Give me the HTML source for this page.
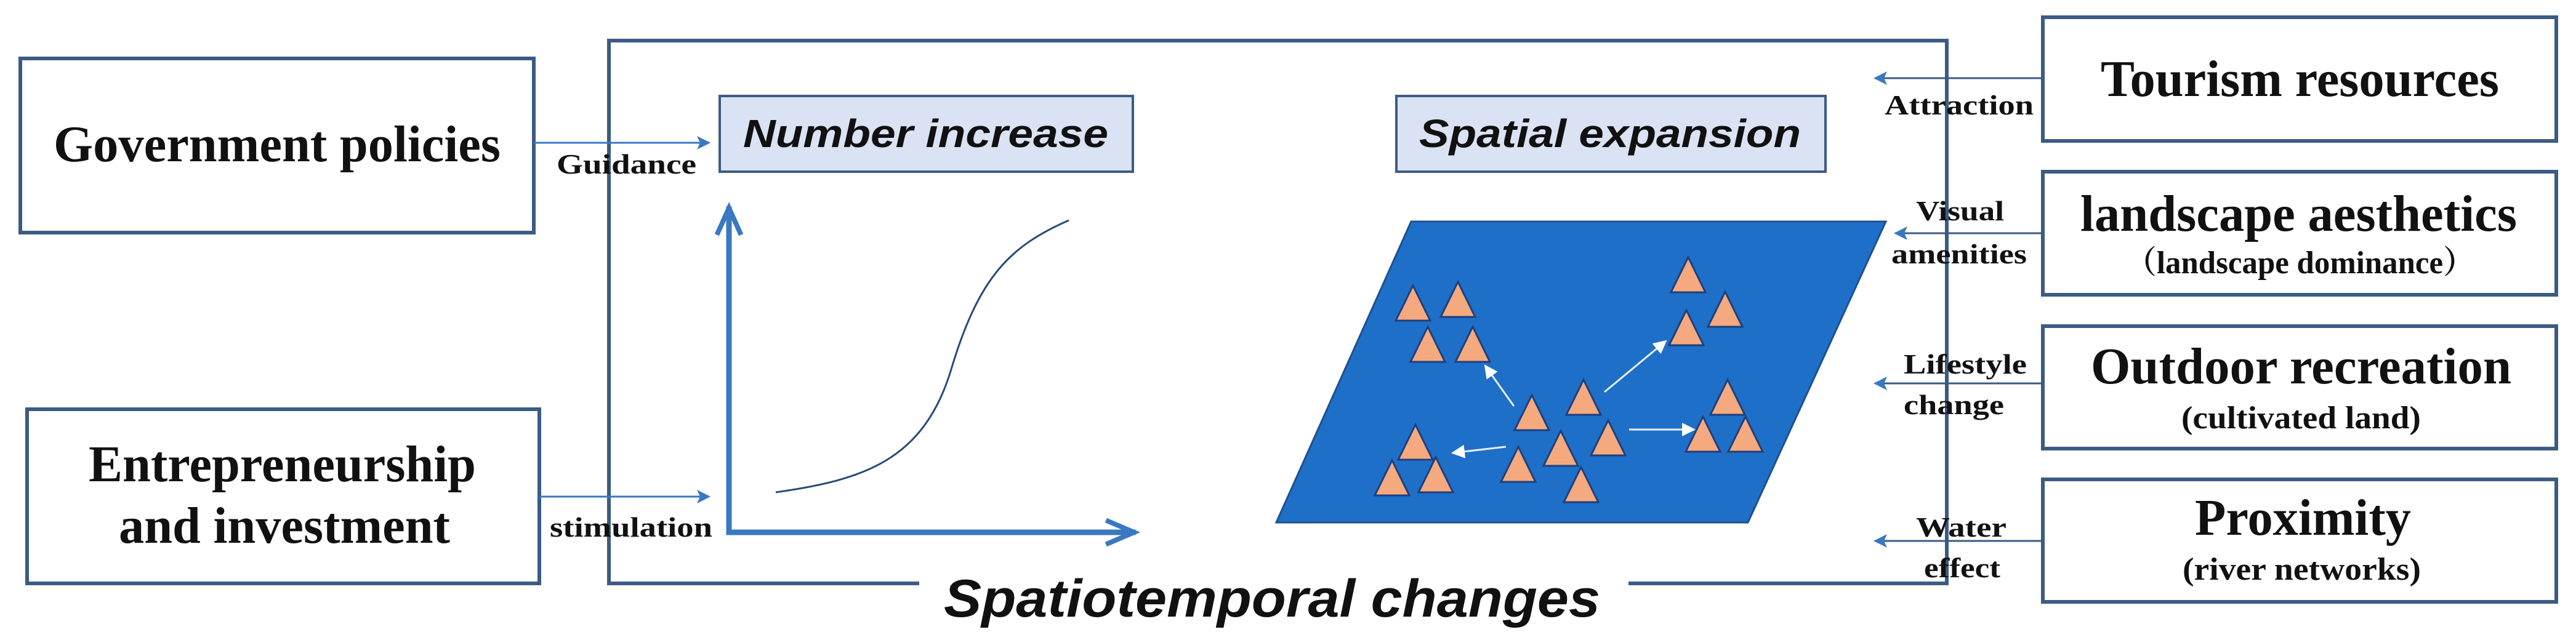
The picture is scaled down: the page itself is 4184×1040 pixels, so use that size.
<!DOCTYPE html>
<html><head><meta charset="utf-8"><style>html,body{margin:0;padding:0;background:#fff}svg{display:block}</style></head>
<body>
<svg width="4184" height="1040" viewBox="0 0 4184 1040" xmlns="http://www.w3.org/2000/svg">
<defs>
<marker id="ah" markerWidth="22" markerHeight="22" refX="20" refY="11" orient="auto" markerUnits="userSpaceOnUse"><path d="M0,0 L22,11 L0,22 L5,11 Z" fill="#3a78c0"/></marker>
<marker id="wh" markerWidth="22" markerHeight="22" refX="20" refY="11" orient="auto" markerUnits="userSpaceOnUse"><path d="M0,0 L22,11 L0,22 Z" fill="#fff"/></marker>
</defs>
<g fill="none" stroke="#3b5b84" stroke-width="6">
<polyline points="1493,948 989,948 989,66 3162,66 3162,948 2645,948"/>
<rect x="33" y="95" width="834" height="283"/>
<rect x="44" y="665" width="832" height="283"/>
<rect x="3318" y="28" width="834" height="201"/>
<rect x="3318" y="279" width="834" height="200"/>
<rect x="3318" y="530" width="834" height="199"/>
<rect x="3318" y="779" width="834" height="199"/>
</g>
<rect x="1169" y="156" width="671" height="123" fill="#dae3f3" stroke="#3b5b84" stroke-width="4"/>
<rect x="2268" y="156" width="697" height="123" fill="#dae3f3" stroke="#3b5b84" stroke-width="4"/>
<g stroke="#3a78c0" stroke-width="3" fill="none">
<line x1="867" y1="232" x2="1152" y2="232" marker-end="url(#ah)"/>
<line x1="876" y1="807" x2="1152" y2="807" marker-end="url(#ah)"/>
<line x1="3318" y1="127" x2="3045" y2="127" stroke="#3b5b84" marker-end="url(#ah)"/>
<line x1="3318" y1="379" x2="3078" y2="379" stroke="#3b5b84" marker-end="url(#ah)"/>
<line x1="3318" y1="623" x2="3045" y2="623" stroke="#3b5b84" marker-end="url(#ah)"/>
<line x1="3318" y1="879" x2="3045" y2="879" stroke="#3b5b84" marker-end="url(#ah)"/>
</g>
<g stroke="#3a78c0" stroke-width="9" fill="none" stroke-linecap="square">
<polyline points="1184,340 1184,865 1840,865"/>
<polyline points="1166,378 1184,338 1202,378" stroke-width="8"/>
<polyline points="1800,847 1842,865 1800,883" stroke-width="8"/>
</g>
<path d="M1260,800 C1400,780 1500,750 1545,600 C1590,450 1640,400 1736,358" fill="none" stroke="#2a4a78" stroke-width="3"/>
<polygon points="2292,360 3063,360 2839,849 2073,849" fill="#1e6fc8" stroke="#1f4f8f" stroke-width="3"/>
<g fill="#f5a97f" stroke="#1f3f7a" stroke-width="3">
<polygon points="2295,464 2267,521 2323,521"/>
<polygon points="2368,458 2340,515 2396,515"/>
<polygon points="2319,531 2291,588 2347,588"/>
<polygon points="2392,531 2364,588 2420,588"/>
<polygon points="2742,418 2714,475 2770,475"/>
<polygon points="2802,474 2774,531 2830,531"/>
<polygon points="2739,504 2711,561 2767,561"/>
<polygon points="2572,617 2544,674 2600,674"/>
<polygon points="2488,642 2460,699 2516,699"/>
<polygon points="2806,617 2778,674 2834,674"/>
<polygon points="2766,677 2738,734 2794,734"/>
<polygon points="2835,677 2807,734 2863,734"/>
<polygon points="2612,683 2584,740 2640,740"/>
<polygon points="2535,700 2507,757 2563,757"/>
<polygon points="2299,690 2271,747 2327,747"/>
<polygon points="2261,748 2233,805 2289,805"/>
<polygon points="2332,743 2304,800 2360,800"/>
<polygon points="2466,726 2438,783 2494,783"/>
<polygon points="2568,759 2540,816 2596,816"/>
</g>
<g stroke="#e8f0ff" stroke-width="3">
<line x1="2459" y1="660" x2="2412" y2="594" marker-end="url(#wh)"/>
<line x1="2606" y1="637" x2="2706" y2="554" marker-end="url(#wh)"/>
<line x1="2646" y1="698" x2="2752" y2="698" marker-end="url(#wh)"/>
<line x1="2446" y1="726" x2="2359" y2="736" marker-end="url(#wh)"/>
</g>
<g font-family="'Liberation Serif', serif" font-weight="bold" fill="#111">
<text x="87" y="262" font-size="84" textLength="726" lengthAdjust="spacingAndGlyphs">Government policies</text>
<text x="144" y="782" font-size="84" textLength="629" lengthAdjust="spacingAndGlyphs">Entrepreneurship</text>
<text x="193" y="882" font-size="84" textLength="538" lengthAdjust="spacingAndGlyphs">and investment</text>
<text x="3412" y="156" font-size="84" textLength="647" lengthAdjust="spacingAndGlyphs">Tourism resources</text>
<text x="3379" y="375" font-size="84" textLength="709" lengthAdjust="spacingAndGlyphs">landscape aesthetics</text>
<text x="3452" y="444" font-size="52" textLength="567" lengthAdjust="spacingAndGlyphs" font-family="'Liberation Serif','Noto Serif CJK SC',serif">（landscape dominance）</text>
<text x="3396" y="623" font-size="84" textLength="683" lengthAdjust="spacingAndGlyphs">Outdoor recreation</text>
<text x="3543" y="696" font-size="52" textLength="389" lengthAdjust="spacingAndGlyphs">(cultivated land)</text>
<text x="3565" y="869" font-size="84" textLength="351" lengthAdjust="spacingAndGlyphs">Proximity</text>
<text x="3545" y="942" font-size="52" textLength="387" lengthAdjust="spacingAndGlyphs">(river networks)</text>
<text x="904" y="282" font-size="46" textLength="227" lengthAdjust="spacingAndGlyphs">Guidance</text>
<text x="893" y="872" font-size="46" textLength="264" lengthAdjust="spacingAndGlyphs">stimulation</text>
<text x="3061" y="186" font-size="46" textLength="242" lengthAdjust="spacingAndGlyphs">Attraction</text>
<text x="3112" y="358" font-size="46" textLength="143" lengthAdjust="spacingAndGlyphs">Visual</text>
<text x="3072" y="428" font-size="46" textLength="220" lengthAdjust="spacingAndGlyphs">amenities</text>
<text x="3092" y="607" font-size="46" textLength="200" lengthAdjust="spacingAndGlyphs">Lifestyle</text>
<text x="3092" y="673" font-size="46" textLength="163" lengthAdjust="spacingAndGlyphs">change</text>
<text x="3112" y="872" font-size="46" textLength="147" lengthAdjust="spacingAndGlyphs">Water</text>
<text x="3125" y="938" font-size="46" textLength="124" lengthAdjust="spacingAndGlyphs">effect</text>
</g>
<g font-family="'Liberation Sans', sans-serif" font-weight="bold" font-style="italic" fill="#111">
<text x="1207" y="239" font-size="64" textLength="593" lengthAdjust="spacingAndGlyphs">Number increase</text>
<text x="2305" y="239" font-size="64" textLength="620" lengthAdjust="spacingAndGlyphs">Spatial expansion</text>
<text x="1533" y="1002" font-size="86" textLength="1066" lengthAdjust="spacingAndGlyphs">Spatiotemporal changes</text>
</g>
</svg>
</body></html>
